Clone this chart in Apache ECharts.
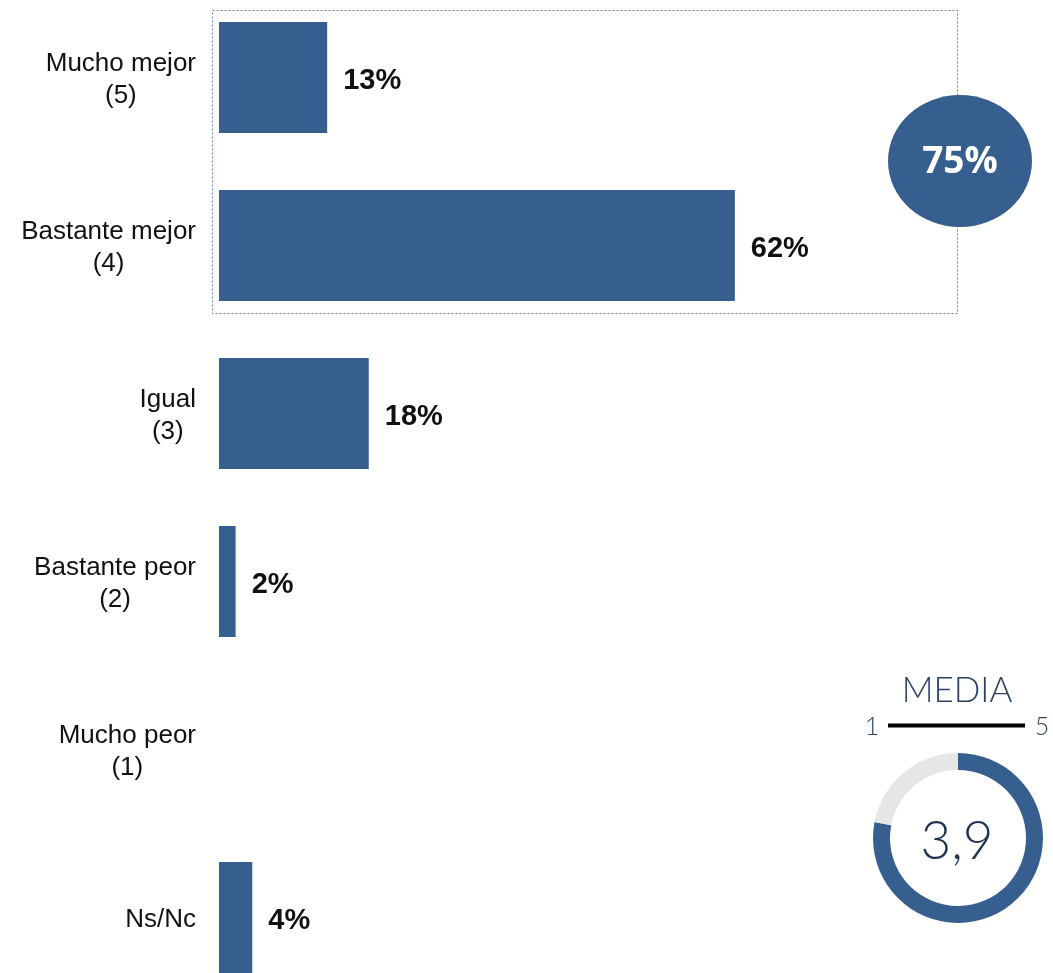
<!DOCTYPE html>
<html>
<head>
<meta charset="utf-8">
<script src="https://cdn.jsdelivr.net/npm/echarts@6/dist/echarts.min.js"></script>
<style>html,body{margin:0;padding:0;background:#fff}#c{width:1053px;height:973px}</style>
</head>
<body>
<div id="c"></div>
<script>
const categories = ['Mucho mejor\n(5)', 'Bastante mejor\n(4)', 'Igual\n(3)', 'Bastante peor\n(2)', 'Mucho peor\n(1)', 'Ns/Nc'];
const values = [13, 62, 18, 2, 0, 4];
const topTwoTotal = 75;
const meanValue = 3.9;
const scaleMin = 1;
const scaleMax = 5;

const BLUE = '#365f8f';
const FONT = '"Liberation Sans"';
const chart = echarts.init(document.getElementById('c'), null, {renderer: 'canvas'});
chart.setOption({
  animation: false,
  grid: {left: 219, top: -6.5, bottom: -28.5, width: 832, outerBoundsMode: 'none', containLabel: false},
  xAxis: {type: 'value', min: 0, max: 100, show: false},
  yAxis: {
    type: 'category', data: categories, inverse: true,
    axisLine: {show: false}, axisTick: {show: false},
    axisLabel: {
      align: 'right', margin: 23, padding: [4, 0, 0, 0],
      formatter: v => v.split('\n').map(s => '{a|' + s + '}').join('\n'),
      rich: {a: {align: 'center', fontFamily: FONT, fontSize: 26, lineHeight: 32, color: '#111'}}
    }
  },
  series: [{
    type: 'bar', data: values.map(v => v === 0 ? null : v), barWidth: 111,
    itemStyle: {color: BLUE},
    label: {show: true, position: 'right', distance: 16, offset: [0, 3], formatter: '{c}%',
      fontFamily: FONT, fontWeight: 'bold', fontSize: 29, color: '#111'}
  }, {
    type: 'pie', center: [958, 838], radius: [68, 85], startAngle: 90, clockwise: true,
    silent: true, label: {show: false}, labelLine: {show: false},
    data: [
      {value: meanValue, itemStyle: {color: BLUE}},
      {value: scaleMax - meanValue, itemStyle: {color: '#e6e6e6'}}
    ]
  }],
  graphic: [
    {type: 'rect', shape: {x: 212.5, y: 10.5, width: 745, height: 303}, silent: true,
      style: {fill: 'none', stroke: '#6a7f9c', lineWidth: 1, lineDash: [2, 2]}, z: 0},
    {type: 'ellipse', shape: {cx: 960, cy: 161, rx: 72, ry: 66}, style: {fill: BLUE}, z: 10},
    {type: 'text', x: 960, y: 162, z: 11, style: {text: topTwoTotal + '%', fill: '#fff', fontFamily: 'Open Sans', fontWeight: 'bold', fontSize: 37, align: 'center', verticalAlign: 'middle'}},
    {type: 'text', x: 957, y: 691, style: {text: 'MEDIA', fill: '#2b4262', fontFamily: 'Lato', fontWeight: 300, fontSize: 35, align: 'center', verticalAlign: 'middle'}},
    {type: 'text', x: 872, y: 727, style: {text: String(scaleMin), fill: '#2b4262', fontFamily: 'Lato', fontWeight: 300, fontSize: 25, align: 'center', verticalAlign: 'middle'}},
    {type: 'text', x: 1042, y: 727, style: {text: String(scaleMax), fill: '#2b4262', fontFamily: 'Lato', fontWeight: 300, fontSize: 25, align: 'center', verticalAlign: 'middle'}},
    {type: 'line', shape: {x1: 888, y1: 725.5, x2: 1025, y2: 725.5}, style: {stroke: '#000', lineWidth: 4}},
    {type: 'text', x: 957, y: 842, style: {text: meanValue.toFixed(1).replace('.', ','), fill: '#1f3350', fontFamily: 'Lato', fontWeight: 300, fontSize: 53, align: 'center', verticalAlign: 'middle'}}
  ]
});
</script>
</body>
</html>
